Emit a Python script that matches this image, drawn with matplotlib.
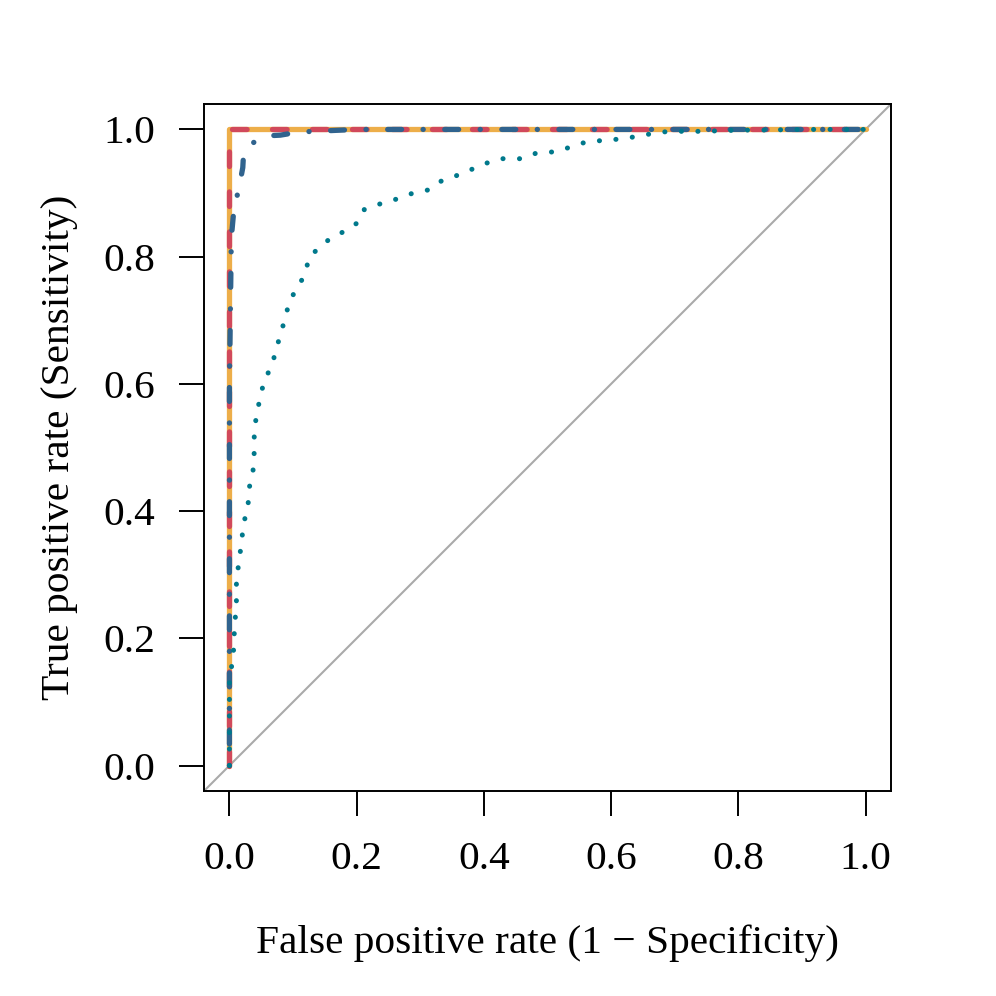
import matplotlib
matplotlib.use('Agg')
import matplotlib.pyplot as plt

# ROC curves (false positive rate, true positive rate)
orange_fpr = [0.0, 0.0, 1.0]
orange_tpr = [0.0, 1.0, 1.0]

red_fpr = [0.0, 0.0, 1.0]
red_tpr = [0.0, 1.0, 1.0]

blue_fpr = [0.0, 0.0, 0.003, 0.007, 0.015, 0.021, 0.022, 0.035, 0.06, 0.08, 0.11, 0.2, 1.0]
blue_tpr = [0.0, 0.6, 0.83, 0.874, 0.908, 0.94, 0.958, 0.978, 0.99, 0.991, 0.996, 1.0, 1.0]

teal_fpr = [0.0, 0.0, 0.006, 0.007, 0.011, 0.011, 0.015, 0.019, 0.022, 0.029, 0.031,
            0.037, 0.039, 0.039, 0.043, 0.049, 0.055, 0.067, 0.073, 0.081, 0.088,
            0.095, 0.107, 0.119, 0.125, 0.142, 0.159, 0.181, 0.201, 0.212, 0.237,
            0.261, 0.286, 0.313, 0.331, 0.356, 0.378, 0.401, 0.426, 0.459, 0.483,
            0.514, 0.538, 0.563, 0.594, 0.623, 0.651, 0.678, 0.710, 0.743, 0.773,
            0.806, 0.838, 0.902, 1.0]
teal_tpr = [0.0, 0.14, 0.168, 0.198, 0.259, 0.29, 0.321, 0.350, 0.380, 0.405, 0.436,
            0.462, 0.493, 0.525, 0.554, 0.581, 0.607, 0.628, 0.654, 0.679, 0.706,
            0.731, 0.752, 0.772, 0.799, 0.815, 0.829, 0.840, 0.853, 0.874, 0.883,
            0.890, 0.899, 0.905, 0.918, 0.927, 0.936, 0.946, 0.954, 0.954, 0.963,
            0.965, 0.973, 0.981, 0.983, 0.986, 0.991, 0.996, 0.997, 0.997, 0.998,
            0.999, 0.999, 1.0, 1.0]

ticks = [0.0, 0.2, 0.4, 0.6, 0.8, 1.0]
tick_labels = ['0.0', '0.2', '0.4', '0.6', '0.8', '1.0']

plt.rcParams['font.family'] = ['Liberation Serif', 'DejaVu Serif']
plt.rcParams['lines.scale_dashes'] = False

fig = plt.figure(figsize=(9.96, 9.96), dpi=100)
ax = fig.add_axes([0.2048, 0.2058, 0.6898, 0.6898])

lo, hi = -0.04, 1.04
ax.plot([lo, hi], [lo, hi], color='#AAAAAA', lw=1.5, zorder=1)

ax.plot(orange_fpr, orange_tpr, color='#edae49', lw=3.8, solid_capstyle='round',
        solid_joinstyle='round', zorder=2)
ax.plot(red_fpr, red_tpr, color='#d1495b', lw=3.8, dashes=(10.5, 18.3),
        dash_capstyle='round', zorder=3)
ax.plot(blue_fpr, blue_tpr, color='#30638e', lw=3.8, dashes=(0.1, 15.5, 10, 15.5),
        dash_capstyle='round', zorder=4)
ax.plot(teal_fpr, teal_tpr, color='#00798c', lw=3.6, dashes=(0.1, 11.8),
        dash_capstyle='round', zorder=5)

ax.set_xlim(lo, hi)
ax.set_ylim(lo, hi)
ax.set_xticks(ticks)
ax.set_xticklabels(tick_labels)
ax.set_yticks(ticks)
ax.set_yticklabels(tick_labels)
ax.tick_params(axis='both', length=18, width=1.4, labelsize=29.8, color='black')
ax.tick_params(axis='x', pad=18)
ax.tick_params(axis='y', pad=17)
for sp in ax.spines.values():
    sp.set_linewidth(1.4)

fig.text(0.5497, 0.0532, 'False positive rate (1 \u2212 Specificity)', fontsize=29.8,
         ha='center', va='center')
fig.text(0.0602, 0.5507, 'True positive rate (Sensitivity)', fontsize=29.8,
         ha='center', va='center', rotation=90)

fig.savefig('out.png', dpi=100)
